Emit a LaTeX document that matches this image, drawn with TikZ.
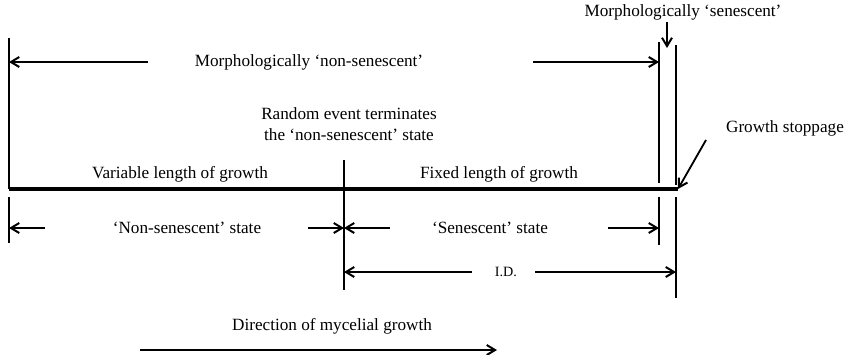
\documentclass[tikz,border=0pt]{standalone}
\usepackage{fontspec}
\setmainfont{Liberation Serif}
\usetikzlibrary{arrows.meta,positioning}

\begin{document}
\begin{tikzpicture}[x=0.6pt, y=-0.6pt,
    txt/.style={inner sep=1pt, font=\fontsize{10.3}{12.4}\selectfont},
    bar/.style={line width=1.1pt},
    stem/.style={line width=2pt},
    dimarrow/.style={line width=1.1pt, -{Straight Barb[length=5pt,width=6pt,line width=1.2pt]}}]

    \useasboundingbox (0,0) rectangle (851,354);

    % marker lines
    \coordinate (lefttop) at (9,38);
    \coordinate (leftstem) at (9,189);
    \coordinate (lefttick) at (9,197);
    \coordinate (leftbot) at (9,243);
    \coordinate (midtop) at (344,160);
    \coordinate (midbot) at (344,290);
    \coordinate (sentop) at (659,42);
    \coordinate (senstem) at (659,183);
    \coordinate (sentick) at (659,197);
    \coordinate (senbot) at (659,245);
    \coordinate (stoptop) at (676,45);
    \coordinate (stopstem) at (676,185);
    \coordinate (stoptick) at (676,197);
    \coordinate (stopbot) at (676,298);
    \coordinate (stemend) at (678,189);

    \draw[bar] (lefttop) -- (leftstem);
    \draw[bar] (lefttick) -- (leftbot);
    \draw[bar] (midtop) -- (midbot);
    \draw[bar] (sentop) -- (senstem);
    \draw[bar] (sentick) -- (senbot);
    \draw[bar] (stoptop) -- (stopstem);
    \draw[bar] (stoptick) -- (stopbot);
    \draw[stem] (leftstem) -- (stemend);

    % labels
    \node[txt] (morphsen) at (683,12) {Morphologically `senescent'};
    \node[txt] (morphnon) at (309,62) {Morphologically `non-senescent'};
    \node[txt, align=center] (random) at (349,124) {Random event terminates\\the `non-senescent' state};
    \node[txt] (stoppage) at (785,128) {Growth stoppage};
    \node[txt] (variable) at (180,174) {Variable length of growth};
    \node[txt] (fixed) at (499,174) {Fixed length of growth};
    \node[txt] (nonstate) at (187,228) {`Non-senescent' state};
    \node[txt] (senstate) at (490,228) {`Senescent' state};
    \node[txt, font=\fontsize{8.5}{10}\selectfont] (id) at (506,272) {I.D.};
    \node[txt] (direction) at (332,326) {Direction of mycelial growth};

    % arrows
    \coordinate (gapsen) at (667,22);
    \draw[dimarrow] (gapsen) -- (667,48);
    \coordinate (stopfrom) at (706,140);
    \draw[dimarrow] (stopfrom) -- (stemend);
    \draw[dimarrow] (148,62) -- (lefttop |- 0,62);
    \draw[dimarrow] (533,62) -- (sentop |- 0,62);
    \draw[dimarrow] (45,228) -- (lefttick |- 0,228);
    \draw[dimarrow] (308,228) -- (midtop |- 0,228);
    \draw[dimarrow] (390,228) -- (midtop |- 0,228);
    \draw[dimarrow] (608,228) -- (sentick |- 0,228);
    \draw[dimarrow] (472,272) -- (midtop |- 0,272);
    \draw[dimarrow] (535,272) -- (stoptick |- 0,272);
    \coordinate (dirfrom) at (140,350);
    \draw[dimarrow] (dirfrom) -- (497,350);
\end{tikzpicture}
\end{document}
